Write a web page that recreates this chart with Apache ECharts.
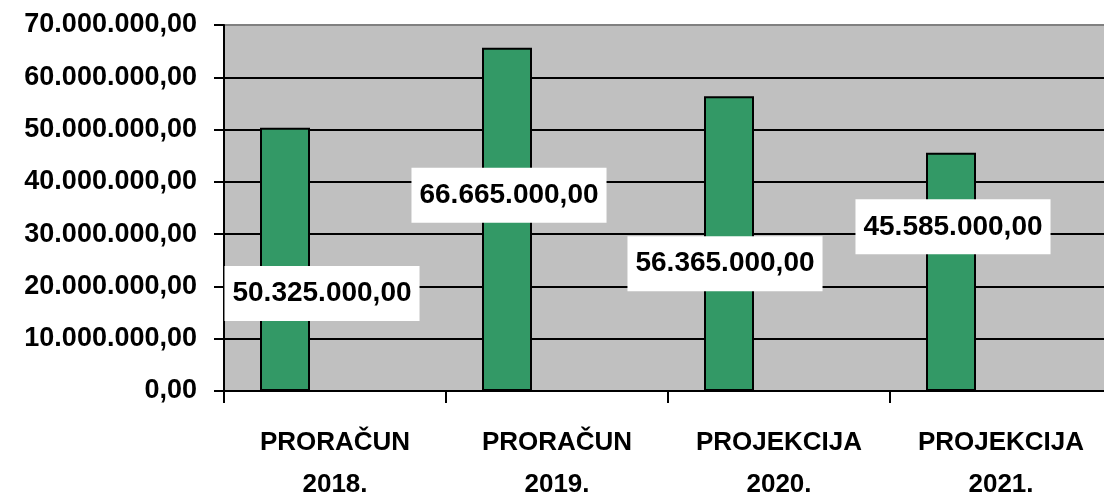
<!DOCTYPE html>
<html>
<head>
<meta charset="utf-8">
<script src="https://cdn.jsdelivr.net/npm/echarts@6/dist/echarts.min.js"></script>
<style>
html,body{margin:0;padding:0;background:#fff;}
#c{width:1104px;height:492px;}
</style>
</head>
<body>
<div id="c"></div>
<script>
const categories = ['PRORAČUN\n2018.', 'PRORAČUN\n2019.', 'PROJEKCIJA\n2020.', 'PROJEKCIJA\n2021.'];
const values = [50325000, 65665000, 56365000, 45585000];
const valueLabels = ['50.325.000,00', '66.665.000,00', '56.365.000,00', '45.585.000,00'];
const yMin = 0, yMax = 70000000, yInterval = 10000000;

const labelOffsets = [[37, 34], [2, -24], [-4, 20], [2, -45]];
const FONT = '"Liberation Sans", Arial, sans-serif';

function fmt(v) {
  const s = Math.round(v).toString().replace(/\B(?=(\d{3})+(?!\d))/g, '.');
  return s + ',00';
}

const chart = echarts.init(document.getElementById('c'));
chart.setOption({
  animation: false,
  backgroundColor: '#ffffff',
  textStyle: { fontFamily: FONT },
  grid: {
    left: 224, top: 25, right: -8, bottom: 101,
    containLabel: false,
    outerBoundsMode: 'none',
    show: true, backgroundColor: '#c0c0c0', borderWidth: 0
  },
  xAxis: {
    type: 'category',
    data: categories,
    axisLine: { lineStyle: { color: '#000', width: 2 } },
    axisTick: { show: true, length: 12, lineStyle: { color: '#000', width: 2 } },
    axisLabel: {
      color: '#000', fontFamily: FONT, fontWeight: 'bold',
      fontSize: 26, lineHeight: 42, margin: 31, interval: 0
    },
    splitLine: { show: false }
  },
  yAxis: {
    type: 'value',
    min: yMin, max: yMax, interval: yInterval,
    axisLine: { show: true, lineStyle: { color: '#000', width: 2 } },
    axisTick: { show: true, length: 10, lineStyle: { color: '#000', width: 2 } },
    axisLabel: {
      color: '#000', fontFamily: FONT, fontWeight: 'bold',
      fontSize: 27, margin: 27, formatter: fmt
    },
    splitLine: {
      show: true,
      lineStyle: { color: ['#000', '#000', '#000', '#000', '#000', '#000', '#000', '#808080'], width: 2 }
    }
  },
  series: [
    {
      type: 'bar',
      barWidth: 50,
      barGap: '100%',
      data: values.map((v, i) => ({
        value: v,
        label: {
          show: true,
          position: 'inside',
          offset: labelOffsets[i],
          formatter: valueLabels[i],
          color: '#000',
          fontFamily: FONT,
          fontWeight: 'bold',
          fontSize: 28,
          backgroundColor: '#fff',
          padding: [14, 8, 13, 8]
        }
      })),
      itemStyle: { color: '#339966', borderColor: '#000', borderWidth: 2 },
      z: 3
    },
    {
      type: 'bar',
      barWidth: 50,
      data: []
    }
  ]
});
</script>
</body>
</html>
